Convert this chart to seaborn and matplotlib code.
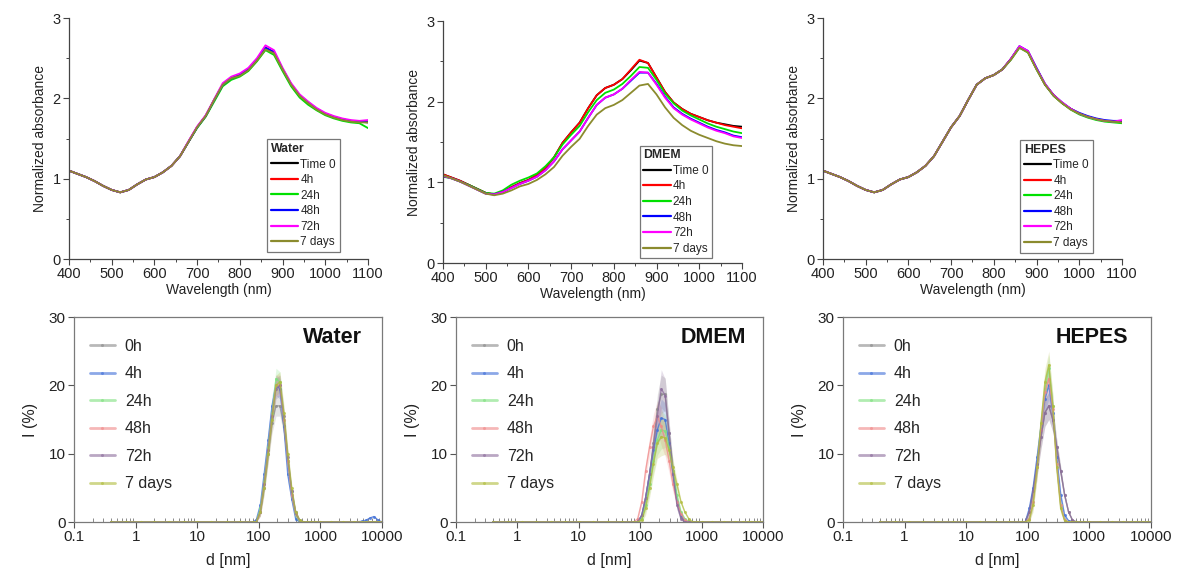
import numpy as np
import pandas as pd
import matplotlib
matplotlib.use("Agg")
import matplotlib.pyplot as plt
from matplotlib.ticker import MultipleLocator, LogLocator, NullFormatter
import seaborn as sns

# ---------------- data: UV-vis-NIR spectra ----------------
wavelength = [400, 420, 440, 460, 480, 500, 520, 540, 560, 580, 600, 620, 640, 660, 680, 700,
              720, 740, 760, 780, 800, 820, 840, 860, 880, 900, 920, 940, 960, 980, 1000,
              1020, 1040, 1060, 1080, 1100]
spec_labels = ["Time 0", "4h", "24h", "48h", "72h", "7 days"]

water_t0 = [1.10, 1.06, 1.02, 0.97, 0.91, 0.86, 0.83, 0.86, 0.93, 0.99, 1.02, 1.08, 1.16, 1.28, 1.46, 1.64,
            1.78, 1.98, 2.17, 2.25, 2.29, 2.36, 2.48, 2.63, 2.57, 2.36, 2.17, 2.03, 1.94, 1.86, 1.81,
            1.77, 1.74, 1.72, 1.71, 1.70]
water_4h = [1.10, 1.06, 1.02, 0.97, 0.91, 0.86, 0.83, 0.86, 0.93, 0.99, 1.02, 1.08, 1.16, 1.28, 1.46, 1.64,
            1.78, 1.98, 2.17, 2.25, 2.29, 2.36, 2.48, 2.63, 2.57, 2.36, 2.17, 2.03, 1.94, 1.86, 1.81,
            1.77, 1.74, 1.72, 1.71, 1.71]
water_24h = [1.10, 1.06, 1.02, 0.97, 0.91, 0.86, 0.83, 0.86, 0.93, 0.99, 1.02, 1.08, 1.16, 1.28, 1.46, 1.63,
             1.77, 1.96, 2.15, 2.23, 2.27, 2.34, 2.46, 2.60, 2.54, 2.34, 2.15, 2.01, 1.92, 1.85, 1.79,
             1.75, 1.72, 1.70, 1.69, 1.63]
water_48h = [1.10, 1.06, 1.02, 0.97, 0.91, 0.86, 0.83, 0.86, 0.93, 0.99, 1.02, 1.08, 1.16, 1.28, 1.46, 1.64,
             1.78, 1.98, 2.17, 2.25, 2.29, 2.36, 2.48, 2.63, 2.58, 2.37, 2.18, 2.04, 1.95, 1.87, 1.81,
             1.77, 1.74, 1.72, 1.71, 1.72]
water_72h = [1.10, 1.06, 1.02, 0.97, 0.91, 0.86, 0.83, 0.86, 0.93, 0.99, 1.02, 1.08, 1.16, 1.28, 1.47, 1.65,
             1.79, 1.99, 2.19, 2.27, 2.31, 2.38, 2.50, 2.66, 2.60, 2.38, 2.19, 2.05, 1.96, 1.88, 1.82,
             1.78, 1.75, 1.73, 1.72, 1.73]
water_7d = [1.10, 1.06, 1.02, 0.97, 0.91, 0.86, 0.83, 0.86, 0.93, 0.99, 1.02, 1.08, 1.16, 1.28, 1.46, 1.64,
            1.78, 1.98, 2.17, 2.25, 2.28, 2.35, 2.47, 2.61, 2.56, 2.36, 2.17, 2.03, 1.94, 1.86, 1.80,
            1.76, 1.73, 1.71, 1.70, 1.70]

dmem_t0 = [1.10, 1.06, 1.02, 0.97, 0.92, 0.87, 0.85, 0.88, 0.94, 0.99, 1.03, 1.09, 1.18, 1.31, 1.49, 1.62,
           1.74, 1.92, 2.08, 2.17, 2.21, 2.28, 2.39, 2.51, 2.48, 2.30, 2.12, 1.99, 1.91, 1.85, 1.81,
           1.77, 1.74, 1.72, 1.70, 1.69]
dmem_4h = [1.10, 1.06, 1.02, 0.97, 0.92, 0.87, 0.85, 0.88, 0.94, 0.99, 1.03, 1.09, 1.18, 1.31, 1.49, 1.62,
           1.74, 1.92, 2.08, 2.17, 2.21, 2.28, 2.40, 2.52, 2.48, 2.30, 2.12, 1.99, 1.91, 1.85, 1.81,
           1.77, 1.74, 1.71, 1.69, 1.67]
dmem_24h = [1.07, 1.05, 1.01, 0.97, 0.92, 0.87, 0.86, 0.90, 0.97, 1.02, 1.06, 1.11, 1.20, 1.31, 1.47, 1.59,
            1.70, 1.87, 2.02, 2.11, 2.15, 2.22, 2.32, 2.43, 2.42, 2.27, 2.10, 1.98, 1.89, 1.83, 1.78,
            1.73, 1.69, 1.66, 1.63, 1.61]
dmem_48h = [1.08, 1.05, 1.01, 0.96, 0.91, 0.86, 0.85, 0.88, 0.93, 0.98, 1.02, 1.07, 1.15, 1.26, 1.41, 1.52,
            1.63, 1.80, 1.96, 2.05, 2.09, 2.16, 2.26, 2.36, 2.36, 2.22, 2.06, 1.93, 1.85, 1.79, 1.74,
            1.69, 1.65, 1.62, 1.58, 1.56]
dmem_72h = [1.08, 1.05, 1.01, 0.96, 0.91, 0.86, 0.85, 0.88, 0.93, 0.98, 1.02, 1.07, 1.15, 1.26, 1.41, 1.52,
            1.63, 1.80, 1.96, 2.05, 2.09, 2.16, 2.27, 2.37, 2.36, 2.21, 2.05, 1.92, 1.84, 1.78, 1.73,
            1.68, 1.64, 1.61, 1.57, 1.55]
dmem_7d = [1.09, 1.05, 1.01, 0.96, 0.91, 0.86, 0.84, 0.86, 0.90, 0.95, 0.98, 1.03, 1.10, 1.19, 1.33, 1.44,
           1.54, 1.70, 1.84, 1.92, 1.96, 2.02, 2.11, 2.20, 2.22, 2.09, 1.93, 1.80, 1.71, 1.64, 1.59,
           1.55, 1.51, 1.48, 1.46, 1.45]

hepes_t0 = [1.10, 1.06, 1.02, 0.97, 0.91, 0.86, 0.83, 0.86, 0.93, 0.99, 1.02, 1.08, 1.16, 1.28, 1.46, 1.64,
            1.78, 1.98, 2.17, 2.25, 2.29, 2.36, 2.49, 2.64, 2.58, 2.37, 2.17, 2.04, 1.94, 1.87, 1.81,
            1.77, 1.74, 1.72, 1.71, 1.71]
hepes_4h = [1.10, 1.06, 1.02, 0.97, 0.91, 0.86, 0.83, 0.86, 0.93, 0.99, 1.02, 1.08, 1.16, 1.28, 1.46, 1.64,
            1.78, 1.98, 2.17, 2.25, 2.29, 2.36, 2.49, 2.64, 2.58, 2.37, 2.17, 2.04, 1.94, 1.87, 1.81,
            1.77, 1.74, 1.72, 1.71, 1.72]
hepes_24h = [1.10, 1.06, 1.02, 0.97, 0.91, 0.86, 0.83, 0.86, 0.93, 0.99, 1.02, 1.08, 1.16, 1.28, 1.46, 1.64,
             1.78, 1.98, 2.17, 2.25, 2.29, 2.36, 2.48, 2.63, 2.57, 2.36, 2.17, 2.03, 1.94, 1.86, 1.80,
             1.76, 1.73, 1.71, 1.70, 1.69]
hepes_48h = [1.10, 1.06, 1.02, 0.97, 0.91, 0.86, 0.83, 0.86, 0.93, 0.99, 1.02, 1.08, 1.16, 1.28, 1.46, 1.64,
             1.78, 1.98, 2.17, 2.25, 2.29, 2.36, 2.49, 2.65, 2.59, 2.38, 2.18, 2.04, 1.95, 1.87, 1.82,
             1.78, 1.75, 1.73, 1.72, 1.72]
hepes_72h = [1.10, 1.06, 1.02, 0.97, 0.91, 0.86, 0.83, 0.86, 0.93, 0.99, 1.02, 1.08, 1.16, 1.28, 1.46, 1.64,
             1.78, 1.98, 2.17, 2.25, 2.29, 2.36, 2.49, 2.65, 2.59, 2.37, 2.18, 2.04, 1.95, 1.87, 1.81,
             1.77, 1.74, 1.72, 1.71, 1.73]
hepes_7d = [1.10, 1.06, 1.02, 0.97, 0.91, 0.86, 0.83, 0.86, 0.93, 0.99, 1.02, 1.08, 1.16, 1.28, 1.46, 1.64,
            1.78, 1.98, 2.17, 2.25, 2.29, 2.36, 2.48, 2.63, 2.57, 2.36, 2.17, 2.03, 1.94, 1.86, 1.81,
            1.77, 1.74, 1.72, 1.71, 1.70]

# ---------------- data: DLS size distributions ----------------
d_low = [0.4, 0.7, 1.2, 2.0, 3.5, 6.0, 10, 17, 30, 50, 79]
d_peak = [91, 106, 122, 142, 164, 190, 220, 255, 295, 342, 396, 459, 531, 615, 712, 825]
d_high = [1000, 1500, 2300, 3500, 4800, 5600, 6400, 7400, 8600, 10000]
dls_labels = ["0h", "4h", "24h", "48h", "72h", "7 days"]

i_low = [0, 0, 0, 0, 0, 0, 0, 0, 0, 0, 0]
i_high_zero = [0, 0, 0, 0, 0, 0, 0, 0, 0, 0]
water_high_4h = [0, 0, 0, 0, 0.1, 0.3, 0.6, 0.8, 0.3, 0]

water_dls = {
    "0h":     [0, 1.5, 5.0, 10.0, 14.5, 17.0, 17.0, 14.0, 9.0, 4.5, 1.5, 0.3, 0, 0, 0, 0],
    "4h":     [0.3, 2.5, 7.0, 12.0, 17.0, 20.0, 19.5, 14.0, 7.0, 3.4, 0.5, 0, 0, 0, 0, 0],
    "24h":    [0, 2.0, 6.0, 11.0, 16.0, 21.0, 20.5, 15.0, 9.0, 4.0, 1.0, 0, 0, 0, 0, 0],
    "48h":    [0, 1.5, 5.5, 10.5, 15.5, 20.0, 20.0, 15.0, 9.0, 4.0, 1.2, 0.2, 0, 0, 0, 0],
    "72h":    [0, 1.5, 5.5, 10.5, 15.5, 19.5, 20.0, 15.5, 9.5, 4.5, 1.3, 0.2, 0, 0, 0, 0],
    "7 days": [0, 1.5, 5.0, 10.0, 15.0, 20.0, 20.5, 16.0, 10.0, 5.0, 1.5, 0.3, 0, 0, 0, 0],
}
water_sd = [0.2, 0.6, 1.0, 1.3, 1.5, 1.5, 1.5, 1.3, 1.0, 0.6, 0.3, 0.1, 0, 0, 0, 0]

dmem_dls = {
    "0h":     [0, 1.0, 3.5, 7.0, 11.5, 16.5, 18.7, 18.7, 13.0, 7.5, 3.0, 0.8, 0, 0, 0, 0],
    "4h":     [0, 1.0, 3.5, 7.0, 10.5, 13.5, 15.2, 15.0, 11.5, 7.0, 3.0, 1.0, 0.2, 0, 0, 0],
    "24h":    [0, 0.5, 2.5, 5.5, 9.0, 12.0, 13.5, 13.3, 11.0, 7.5, 4.0, 1.5, 0.5, 0.1, 0, 0],
    "48h":    [0.5, 3.0, 7.5, 11.0, 14.0, 15.5, 14.0, 12.0, 9.0, 5.5, 3.0, 1.2, 0.3, 0, 0, 0],
    "72h":    [0, 1.0, 3.5, 7.0, 11.0, 15.5, 19.5, 18.5, 13.0, 7.0, 2.5, 0.5, 0, 0, 0, 0],
    "7 days": [0, 0.3, 2.0, 5.0, 8.5, 11.5, 12.5, 12.3, 10.5, 8.0, 5.5, 3.0, 1.5, 0.5, 0, 0],
}
dmem_sd = [0.2, 0.5, 1.0, 1.4, 1.8, 2.2, 2.8, 2.4, 1.8, 1.2, 0.7, 0.3, 0.1, 0, 0, 0]

hepes_dls = {
    "0h":     [0, 1.5, 4.5, 8.5, 12.5, 16.0, 17.0, 15.0, 11.0, 7.5, 4.0, 1.5, 0.3, 0, 0, 0],
    "4h":     [0, 2.0, 5.0, 9.5, 14.0, 18.0, 20.0, 16.0, 9.5, 4.0, 1.0, 0.2, 0, 0, 0, 0],
    "24h":    [0, 0.5, 3.0, 8.0, 14.0, 19.5, 22.5, 17.0, 8.5, 2.5, 0.3, 0, 0, 0, 0, 0],
    "48h":    [0, 0.5, 3.0, 8.0, 13.5, 19.0, 21.0, 16.5, 8.5, 2.5, 0.3, 0, 0, 0, 0, 0],
    "72h":    [0, 1.5, 4.5, 8.5, 12.5, 16.0, 17.0, 15.0, 11.0, 7.5, 4.0, 1.5, 0.3, 0, 0, 0],
    "7 days": [0, 0.3, 2.5, 8.0, 14.5, 20.5, 23.0, 17.0, 8.0, 2.0, 0.2, 0, 0, 0, 0, 0],
}
hepes_sd = [0.2, 0.6, 1.0, 1.5, 1.8, 2.0, 2.0, 1.8, 1.2, 0.7, 0.3, 0.1, 0, 0, 0, 0]

spec_colors = ["#000000", "#ff0000", "#00e000", "#0000ff", "#ff00ff", "#8b8b2e"]
dls_colors = ["#8a8a8a", "#3f6fd8", "#7ee07e", "#f08888", "#8c6c9c", "#b0bc3c"]

# ---------------- style ----------------
sns.set_style("ticks")
plt.rcParams["font.family"] = ["Liberation Sans", "DejaVu Sans"]

fig = plt.figure(figsize=(11.79, 5.81), dpi=100)

top_pos = [[0.0585, 0.5542, 0.2536, 0.4148],
           [0.3757, 0.5473, 0.2536, 0.4165],
           [0.6980, 0.5542, 0.2536, 0.4148]]
bot_pos = [[0.0628, 0.1015, 0.2612, 0.3528],
           [0.3868, 0.1015, 0.2604, 0.3528],
           [0.7150, 0.1015, 0.2612, 0.3528]]

spectra = [
    ("Water", [water_t0, water_4h, water_24h, water_48h, water_72h, water_7d], (0.905, 0.03)),
    ("DMEM", [dmem_t0, dmem_4h, dmem_24h, dmem_48h, dmem_72h, dmem_7d], (0.900, 0.02)),
    ("HEPES", [hepes_t0, hepes_4h, hepes_24h, hepes_48h, hepes_72h, hepes_7d], (0.902, 0.027)),
]

for pos, (name, series, anchor) in zip(top_pos, spectra):
    ax = fig.add_axes(pos)
    rows = []
    for lab, vals in zip(spec_labels, series):
        for w, v in zip(wavelength, vals):
            rows.append({"Wavelength": w, "Absorbance": v, "Series": lab})
    df = pd.DataFrame(rows)
    sns.lineplot(data=df, x="Wavelength", y="Absorbance", hue="Series", hue_order=spec_labels,
                 palette=spec_colors, linewidth=1.3, errorbar=None, ax=ax)
    ax.set_xlim(400, 1100)
    ax.set_ylim(0, 3)
    ax.set_xticks([400, 500, 600, 700, 800, 900, 1000, 1100])
    ax.set_yticks([0, 1, 2, 3])
    ax.xaxis.set_minor_locator(MultipleLocator(50))
    ax.yaxis.set_minor_locator(MultipleLocator(0.5))
    for s in ["top", "right"]:
        ax.spines[s].set_visible(False)
    for s in ["left", "bottom"]:
        ax.spines[s].set_color("#444444")
        ax.spines[s].set_linewidth(0.9)
    ax.tick_params(which="major", direction="out", length=4, width=0.8, labelsize=10.5,
                   color="#444444", labelcolor="#222222", pad=2)
    ax.tick_params(which="minor", direction="out", length=2.5, width=0.7, color="#444444")
    ax.set_xlabel("Wavelength (nm)", fontsize=10, color="#222222", labelpad=1)
    ax.set_ylabel("Normalized absorbance", fontsize=10, color="#222222", labelpad=4)
    handles, labels = ax.get_legend_handles_labels()
    for h in handles:
        h.set_linewidth(1.6)
    leg = ax.legend(handles, labels, title=name, loc="lower right", bbox_to_anchor=anchor,
                    fontsize=8.5, title_fontsize=8.8, alignment="left", frameon=True,
                    fancybox=False, edgecolor="#555555", handlelength=2.3, handletextpad=0.2,
                    labelspacing=0.3, borderpad=0.3, borderaxespad=0.0)
    leg.get_title().set_fontweight("bold")
    leg.get_frame().set_linewidth(0.9)

dls_sets = [
    ("Water", water_dls, water_sd, 0.935),
    ("DMEM", dmem_dls, dmem_sd, 0.945),
    ("HEPES", hepes_dls, hepes_sd, 0.925),
]

for pos, (name, dset, sd, tx) in zip(bot_pos, dls_sets):
    ax = fig.add_axes(pos)
    rows = []
    d_all = d_low + d_peak + d_high
    for lab in dls_labels:
        highs = water_high_4h if (name == "Water" and lab == "4h") else i_high_zero
        i_all = i_low + dset[lab] + highs
        for d, v in zip(d_all, i_all):
            rows.append({"d": d, "I": v, "Time": lab})
    df = pd.DataFrame(rows)
    # shaded spread bands (mean +/- sd)
    for lab, col in zip(dls_labels, dls_colors):
        vals = np.array(dset[lab])
        sdv = np.array(sd) * (vals > 0)
        ax.fill_between(d_peak, np.clip(vals - sdv, 0, None), vals + sdv,
                        color=col, alpha=0.22, linewidth=0)
    sns.lineplot(data=df, x="d", y="I", hue="Time", hue_order=dls_labels, palette=dls_colors,
                 linewidth=1.0, alpha=0.75, marker="o", markersize=2.2, markeredgewidth=0,
                 errorbar=None, ax=ax)
    ax.set_xscale("log")
    ax.set_xlim(0.1, 10000)
    ax.set_ylim(0, 30)
    ax.set_xticks([0.1, 1, 10, 100, 1000, 10000])
    ax.set_xticklabels(["0.1", "1", "10", "100", "1000", "10000"])
    ax.xaxis.set_minor_locator(LogLocator(base=10, subs=np.arange(2, 10), numticks=20))
    ax.xaxis.set_minor_formatter(NullFormatter())
    ax.set_yticks([0, 10, 20, 30])
    for s in ax.spines.values():
        s.set_color("#7a7a7a")
        s.set_linewidth(0.9)
    ax.tick_params(which="major", direction="out", length=4, width=0.8, labelsize=11,
                   color="#555555", labelcolor="#222222", pad=2)
    ax.tick_params(axis="x", which="minor", direction="in", length=3, width=0.6, color="#777777")
    ax.set_xlabel("d [nm]", fontsize=11.5, color="#222222", labelpad=6)
    ax.set_ylabel("I (%)", fontsize=11.5, color="#222222", labelpad=8)
    handles, labels = ax.get_legend_handles_labels()
    for h in handles:
        h.set_linewidth(2.0)
        h.set_alpha(0.6)
    ax.legend(handles, labels, loc="upper left", bbox_to_anchor=(0.03, 0.925), frameon=False,
              fontsize=11.5, handlelength=1.6, handletextpad=0.6, labelspacing=0.78,
              borderaxespad=0.0)
    ax.text(tx, 0.9, name, transform=ax.transAxes, ha="right", va="center",
            fontsize=15.5, fontweight="bold", color="#111111")

fig.savefig("out.png", dpi=100)
